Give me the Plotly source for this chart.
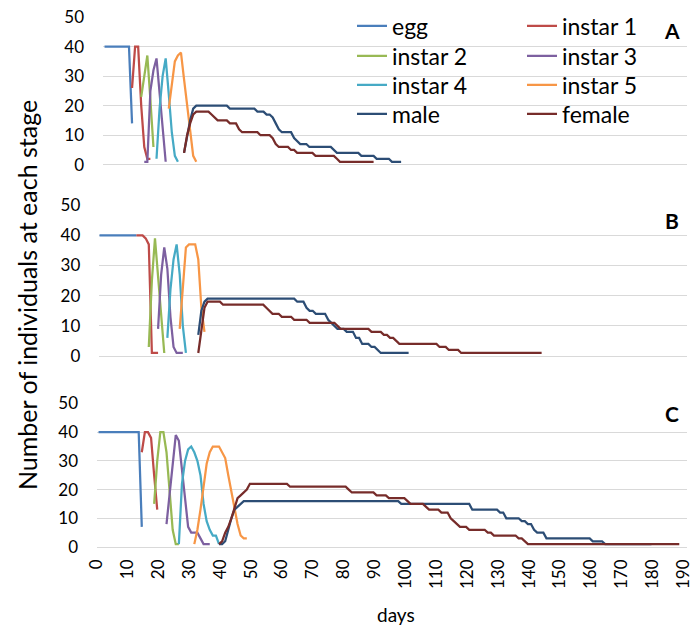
import plotly.graph_objects as go

SERIES = ["egg", "instar 1", "instar 2", "instar 3", "instar 4", "instar 5", "male", "female"]
COLORS = ["#4A7EBB", "#BE4B48", "#98B954", "#7D60A0", "#46AAC5", "#F79646", "#2C4D75", "#772C2A"]
DAY_TICKS = list(range(0, 191, 10))
Y_TICKS = [0, 10, 20, 30, 40, 50]
PANEL_LABELS = ["A", "B", "C"]

# ---- Panel A: (day, individuals) vertices ----
A_EGG = [(0, 40), (8, 40), (9, 14)]
A_I1 = [(9, 26), (10, 40), (11, 40), (12, 20), (13, 6), (14, 2), (15, 2)]
A_I2 = [(12, 23), (13, 30), (14, 37), (15, 22), (16, 6)]
A_I3 = [(13, 1), (14, 1), (15, 25), (16, 32), (17, 36), (18, 24), (19, 12), (20, 1)]
A_I4 = [(17, 2), (18, 19), (19, 30), (20, 36), (21, 24), (22, 11), (23, 3), (24, 1)]
A_I5 = [(21, 19), (22, 28), (23, 35), (24, 37), (25, 38), (26, 29), (27, 20), (28, 11), (29, 3), (30, 1)]
A_MALE = [(26, 4), (27, 10), (28, 15), (29, 19), (30, 20), (40, 20), (41, 19), (49, 19), (50, 18), (52, 18),
          (53, 17), (54, 17), (55, 16), (56, 14), (57, 12), (58, 11), (61, 11), (62, 9), (63, 8), (64, 7),
          (66, 7), (67, 6), (74, 6), (75, 5), (76, 4), (83, 4), (84, 3), (88, 3), (89, 2), (93, 2), (94, 1), (97, 1)]
A_FEMALE = [(26, 4), (27, 10), (28, 14), (29, 17), (30, 18), (34, 18), (35, 17), (36, 16), (37, 15), (40, 15),
            (41, 14), (43, 14), (44, 12), (45, 11), (50, 11), (51, 10), (54, 10), (55, 9), (56, 7), (57, 6),
            (60, 6), (61, 5), (62, 5), (63, 4), (68, 4), (69, 3), (75, 3), (76, 2), (77, 1), (88, 1)]

# ---- Panel B ----
B_EGG = [(0, 40), (12, 40)]
B_I1 = [(12, 40), (14, 40), (15, 39), (16, 37), (17, 1), (19, 1)]
B_I2 = [(16, 3), (17, 25), (18, 39), (19, 27), (20, 13), (21, 1)]
B_I3 = [(19, 9), (20, 27), (21, 36), (22, 29), (23, 13), (24, 3), (25, 1), (27, 1)]
B_I4 = [(22, 6), (23, 22), (24, 32), (25, 37), (26, 27), (27, 10), (28, 1)]
B_I5 = [(26, 9), (27, 23), (28, 36), (29, 37), (31, 37), (32, 32), (33, 16), (34, 8)]
B_MALE = [(32, 7), (33, 15), (34, 18), (35, 19), (63, 19), (64, 18), (66, 18), (67, 16), (68, 15), (69, 15),
          (70, 14), (73, 14), (74, 12), (75, 11), (76, 10), (77, 9), (79, 9), (80, 8), (82, 8), (83, 6),
          (84, 6), (85, 4), (87, 4), (88, 3), (89, 3), (90, 2), (91, 1), (100, 1)]
B_FEMALE = [(32, 1), (33, 8), (34, 16), (35, 18), (39, 18), (40, 17), (53, 17), (54, 16), (55, 15), (56, 14),
            (58, 14), (59, 13), (62, 13), (63, 12), (67, 12), (68, 11), (76, 11), (77, 10), (78, 9), (87, 9),
            (88, 8), (91, 8), (92, 7), (93, 7), (94, 6), (95, 6), (96, 5), (97, 4), (109, 4), (110, 3),
            (112, 3), (113, 2), (116, 2), (117, 1), (143, 1)]

# ---- Panel C ----
C_EGG = [(0, 40), (13, 40), (14, 7)]
C_I1 = [(14, 33), (15, 40), (16, 40), (17, 38), (18, 25), (19, 13)]
C_I2 = [(18, 15), (19, 30), (20, 40), (21, 40), (22, 33), (23, 19), (24, 6), (25, 1), (26, 1)]
C_I3 = [(22, 8), (23, 19), (24, 29), (25, 39), (26, 37), (27, 27), (28, 15), (29, 7), (30, 5), (32, 5),
        (33, 3), (34, 1), (36, 1)]
C_I4 = [(26, 1), (27, 22), (28, 30), (29, 34), (30, 35), (31, 33), (32, 30), (33, 25), (34, 15), (35, 9),
        (36, 6), (37, 4), (38, 4), (39, 1)]
C_I5 = [(31, 1), (32, 6), (33, 13), (34, 21), (35, 29), (36, 33), (37, 35), (39, 35), (40, 33), (41, 31),
        (42, 25), (43, 19), (44, 13), (45, 8), (46, 4), (47, 3), (48, 3)]
C_MALE = [(39, 1), (40, 1), (41, 2), (42, 6), (43, 10), (44, 13), (45, 14), (46, 15), (47, 16), (97, 16),
          (98, 15), (120, 15), (121, 13), (129, 13), (130, 12), (131, 12), (132, 10), (136, 10), (137, 9),
          (138, 9), (139, 8), (140, 8), (141, 6), (142, 5), (144, 5), (145, 3), (159, 3), (160, 2), (163, 2),
          (164, 1), (179, 1)]
C_FEMALE = [(39, 1), (40, 2), (41, 5), (42, 7), (43, 10), (44, 14), (45, 17), (46, 18), (47, 19), (48, 20),
            (49, 22), (61, 22), (62, 21), (80, 21), (81, 20), (82, 19), (89, 19), (90, 18), (93, 18), (94, 17),
            (99, 17), (100, 16), (101, 15), (105, 15), (106, 14), (107, 13), (110, 13), (111, 12), (113, 12),
            (114, 10), (115, 9), (116, 8), (117, 7), (119, 7), (120, 6), (125, 6), (126, 5), (127, 5),
            (128, 4), (135, 4), (136, 3), (137, 3), (138, 2), (139, 1), (188, 1)]

PANEL_A = [A_EGG, A_I1, A_I2, A_I3, A_I4, A_I5, A_MALE, A_FEMALE]
PANEL_B = [B_EGG, B_I1, B_I2, B_I3, B_I4, B_I5, B_MALE, B_FEMALE]
PANEL_C = [C_EGG, C_I1, C_I2, C_I3, C_I4, C_I5, C_MALE, C_FEMALE]

FONT = "Lato, 'Open Sans', sans-serif"
GRID = "#D9D9D9"

W, H = 693, 628
ML, MR, MT, MB = 97, 6, 17, 81
PW = W - ML - MR
PH = H - MT - MB


def px_x(x):
    return (x - ML) / PW


def px_y(y):
    return (H - MB - y) / PH


def legend_key(i):
    return "legend" if i == 0 else "legend%d" % (i + 1)


fig = go.Figure()
axes = [("x", "y"), ("x2", "y2"), ("x3", "y3")]
for pi, panel in enumerate([PANEL_A, PANEL_B, PANEL_C]):
    xa, ya = axes[pi]
    for si, pts in enumerate(panel):
        fig.add_trace(go.Scatter(
            x=[p[0] for p in pts], y=[p[1] for p in pts], mode="lines",
            name=SERIES[si], line=dict(color=COLORS[si], width=2.25),
            xaxis=xa, yaxis=ya, showlegend=(pi == 0),
            legend=legend_key(si),
            cliponaxis=False, hoverinfo="skip"))

yaxis_common = dict(range=[0, 50.05], tickvals=Y_TICKS, showgrid=True, gridcolor=GRID, gridwidth=1,
                    zeroline=True, zerolinecolor=GRID, zerolinewidth=1, showline=False, ticks="",
                    automargin=False,
                    tickfont=dict(family=FONT, size=17, color="#000"), ticklabelstandoff=18)
xaxis_hidden = dict(showgrid=False, zeroline=False, showline=False, showticklabels=False, ticks="",
                    automargin=False)

layout = dict(
    width=W, height=H, margin=dict(l=ML, r=MR, t=MT, b=MB, autoexpand=False),
    paper_bgcolor="white", plot_bgcolor="white",
    font=dict(family=FONT, size=17, color="#000"),
    xaxis=dict(domain=[px_x(103), 1], range=[-0.5, 190.5], anchor="y", **xaxis_hidden),
    xaxis2=dict(domain=[px_x(99.3), 1], range=[0, 190], anchor="y2", **xaxis_hidden),
    xaxis3=dict(domain=[0, 1], range=[-0.5, 190.5], anchor="y3", showgrid=False, zeroline=False,
                showline=False, ticks="", tickvals=DAY_TICKS, tickangle=-90, automargin=False,
                ticklabeloverflow="allow", ticklabelshift=-2,
                tickfont=dict(family=FONT, size=17, color="#000"), ticklabelstandoff=8),
    yaxis=dict(domain=[px_y(164.7), 1], anchor="x", **yaxis_common),
    yaxis2=dict(domain=[px_y(356), px_y(205)], anchor="x2", **yaxis_common),
    yaxis3=dict(domain=[0, px_y(403.3)], anchor="x3", **yaxis_common),
    showlegend=True,
)

LEG_COL_X = [352, 522]
LEG_ROW_Y = [26, 56, 85, 114]
for si in range(len(SERIES)):
    layout[legend_key(si)] = dict(
        x=px_x(LEG_COL_X[si % 2]), y=px_y(LEG_ROW_Y[si // 2]), xanchor="left", yanchor="middle",
        bgcolor="rgba(0,0,0,0)", font=dict(family=FONT, size=23, color="#000"))
fig.update_layout(**layout)

annotations = [
    dict(text="Number of individuals at each stage", x=px_x(27), y=px_y(295), xref="paper", yref="paper",
         xanchor="center", yanchor="middle",
         textangle=-90, showarrow=False, font=dict(family=FONT, size=25, color="#000")),
    dict(text="days", x=px_x(396), y=px_y(614), xref="paper", yref="paper", showarrow=False,
         xanchor="center", yanchor="middle",
         font=dict(family=FONT, size=19, color="#000")),
]
for lbl, ypix in zip(PANEL_LABELS, [31, 220, 413]):
    annotations.append(dict(text="<b>%s</b>" % lbl, x=px_x(672), y=px_y(ypix), xref="paper", yref="paper",
                            xanchor="center", yanchor="middle",
                            showarrow=False, font=dict(family=FONT, size=21, color="#000")))
fig.update_layout(annotations=annotations)

fig.write_html("out.html", config={"displayModeBar": False},
               post_script="document.body.style.margin='0';")
